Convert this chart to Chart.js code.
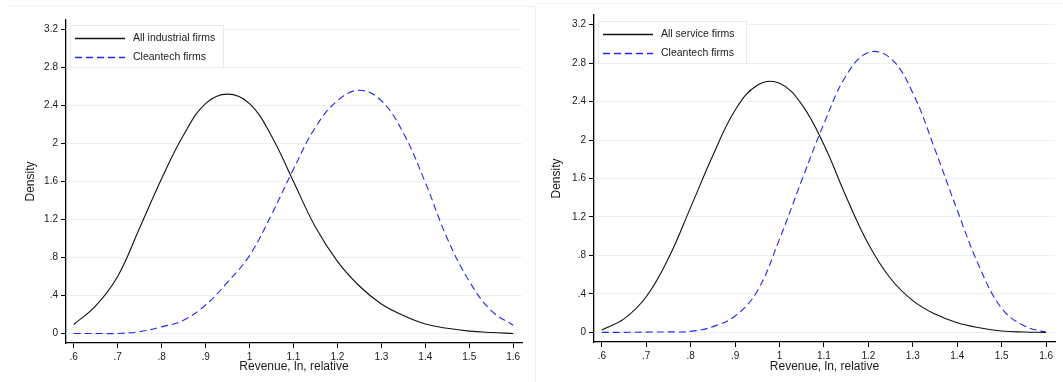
<!DOCTYPE html>
<html>
<head>
<meta charset="utf-8">
<script src="https://cdn.jsdelivr.net/npm/chart.js@4/dist/chart.umd.min.js"></script>
<style>
  body { margin: 0; background: #fff; width: 1063px; height: 382px; overflow: hidden; position: relative; }
  .panel { position: absolute; top: 0; }
  #left-frame { position: absolute; left: 7px; top: 6px; width: 528px; height: 376px; border-top: 1px solid #edf2f3; border-right: 1px solid #edf2f3; }
  #right-frame { position: absolute; left: 535px; top: 3px; width: 528px; height: 379px; border-top: 1px solid #edf2f3; }
</style>
</head>
<body>
<div id="left-frame"></div>
<div id="right-frame"></div>
<canvas id="left" class="panel" width="535" height="382" style="left:0"></canvas>
<canvas id="right" class="panel" width="528" height="382" style="left:535px"></canvas>
<script>
// x grid of the density estimates (revenue, ln, relative)
const xValues = [0.6, 0.65, 0.7, 0.75, 0.8, 0.85, 0.9, 0.95, 1.0, 1.05, 1.1,
                 1.15, 1.2, 1.25, 1.3, 1.35, 1.4, 1.45, 1.5, 1.55, 1.6]

// left panel: industrial firms
const industrialAll = [0.095, 0.29, 0.60, 1.11, 1.63, 2.09, 2.42, 2.52, 2.42, 2.08, 1.60,
                       1.12, 0.76, 0.50, 0.31, 0.19, 0.10, 0.055, 0.025, 0.01, 0.0]
const industrialClean = [0.0, 0.0, 0.0, 0.02, 0.07, 0.14, 0.30, 0.54, 0.82, 1.25, 1.73,
                         2.17, 2.45, 2.56, 2.45, 2.11, 1.59, 1.0, 0.55, 0.24, 0.087]

// right panel: service firms
const serviceAll = [0.025, 0.14, 0.37, 0.77, 1.30, 1.84, 2.31, 2.57, 2.59, 2.37, 1.95,
                    1.41, 0.92, 0.56, 0.33, 0.19, 0.10, 0.048, 0.015, 0.004, 0.0]
const serviceClean = [0.0, 0.0, 0.003, 0.005, 0.01, 0.06, 0.17, 0.43, 0.97, 1.58, 2.17,
                      2.67, 2.91, 2.85, 2.49, 1.90, 1.27, 0.68, 0.25, 0.07, 0.0]

const xTicks = [0.6, 0.7, 0.8, 0.9, 1.0, 1.1, 1.2, 1.3, 1.4, 1.5, 1.6]
const yTicks = [0, 0.4, 0.8, 1.2, 1.6, 2.0, 2.4, 2.8, 3.2]

const FONT = '"Liberation Sans", Arial, sans-serif'
const BLUE = '#2424ff'

// stata style labels: ".6", "1", "1.2"
function stataLabel(v) {
    return String(Number(v.toFixed(1))).replace(/^0\./, '.')
}

function points(arr) {
    return xValues.map((x, i) => ({ x: x, y: arr[i] }))
}

// legend drawn inside the plot region, in a faint box
const legendBox = {
    id: 'legendBox',
    afterDraw(chart, args, opts) {
        const ctx = chart.ctx
        const x = chart.chartArea.left + opts.dx
        const y = chart.chartArea.top + opts.dy
        ctx.save()
        ctx.fillStyle = '#fff'
        ctx.fillRect(x, y, opts.w, opts.h)
        ctx.strokeStyle = '#e4ecee'
        ctx.lineWidth = 1
        ctx.strokeRect(x + 0.5, y + 0.5, opts.w, opts.h)
        chart.data.datasets.forEach((ds, i) => {
            const ly = Math.round(y + 13 + i * 19) + 0.5
            ctx.strokeStyle = ds.borderColor
            ctx.lineWidth = 1.3
            ctx.setLineDash(ds.borderDash || [])
            ctx.beginPath()
            ctx.moveTo(x + 5, ly)
            ctx.lineTo(x + 55, ly)
            ctx.stroke()
            ctx.setLineDash([])
            ctx.fillStyle = '#1a1a1a'
            ctx.font = '10.5px ' + FONT
            ctx.textBaseline = 'middle'
            ctx.fillText(ds.label, x + 63, ly)
        })
        ctx.restore()
    }
}

function makeChart(id, allLabel, allData, cleanData, lay) {
    return new Chart(document.getElementById(id), {
        type: 'line',
        data: {
            datasets: [{
                label: allLabel,
                data: points(allData),
                borderColor: '#111',
                borderWidth: 1.1,
                pointRadius: 0,
                tension: 0.4
            }, {
                label: 'Cleantech firms',
                data: points(cleanData),
                borderColor: BLUE,
                borderWidth: 1.1,
                borderDash: [7, 4],
                pointRadius: 0,
                tension: 0.4
            }]
        },
        options: {
            responsive: false,
            animation: false,
            layout: { padding: { left: lay.left, right: lay.right, top: lay.top, bottom: 0 } },
            plugins: {
                legend: { display: false },
                tooltip: { enabled: false },
                legendBox: lay.legend
            },
            scales: {
                x: {
                    type: 'linear',
                    min: 0.5825,
                    max: 1.62,
                    afterFit: s => { s.height = lay.xHeight },
                    afterBuildTicks: s => { s.ticks = xTicks.map(v => ({ value: v })) },
                    grid: { drawOnChartArea: false, tickColor: '#000', tickLength: 5, tickWidth: 1 },
                    border: { color: '#000', width: 1.3 },
                    ticks: { callback: v => stataLabel(v), color: '#1a1a1a', font: { family: FONT, size: 10 }, padding: 3, maxRotation: 0 },
                    title: { display: true, text: 'Revenue, ln, relative', color: '#1a1a1a', font: { family: FONT, size: 12 }, padding: { top: 0, bottom: 8 } }
                },
                y: {
                    min: -0.1,
                    max: 3.3,
                    afterFit: s => { s.width = lay.yWidth },
                    afterBuildTicks: s => { s.ticks = yTicks.map(v => ({ value: v })) },
                    grid: { color: '#eaf1f2', tickColor: '#000', tickLength: 5, tickWidth: 1 },
                    border: { color: '#000', width: 1.3 },
                    ticks: { callback: v => stataLabel(v), color: '#1a1a1a', font: { family: FONT, size: 10 }, padding: 3 },
                    title: { display: true, text: 'Density', color: '#1a1a1a', font: { family: FONT, size: 12 }, padding: { top: lay.titlePad, bottom: 0 } }
                }
            }
        },
        plugins: [legendBox]
    })
}

makeChart('left', 'All industrial firms', industrialAll, industrialClean, {
    left: 18, right: 13, top: 20, yWidth: 48, xHeight: 39, titlePad: 5,
    legend: { dx: 4, dy: 5, w: 153, h: 42 }
})

makeChart('right', 'All service firms', serviceAll, serviceClean, {
    left: 11, right: 8, top: 15, yWidth: 48, xHeight: 40, titlePad: 3,
    legend: { dx: 4, dy: 6, w: 148, h: 42 }
})
</script>
</body>
</html>
